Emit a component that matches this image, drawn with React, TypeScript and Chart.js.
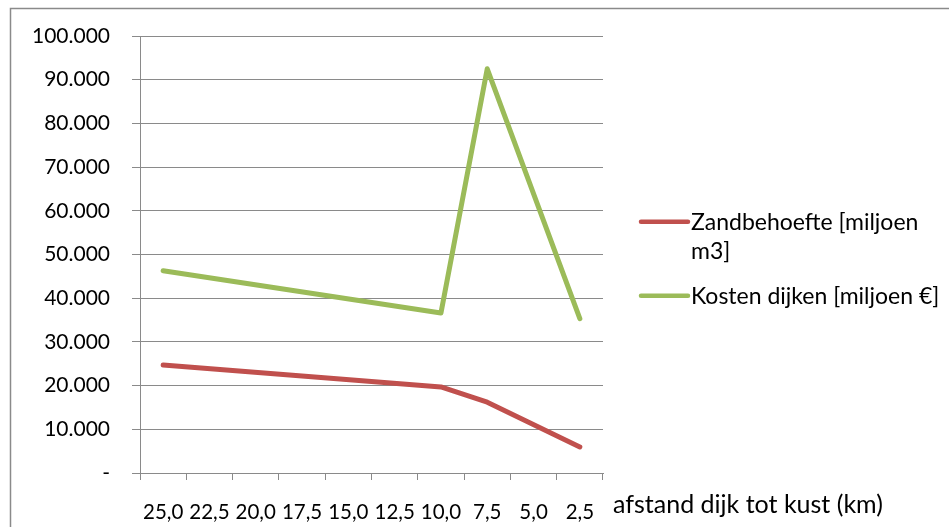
import React, { useEffect, useRef } from "react";
import { Chart, registerables } from "chart.js";

Chart.register(...registerables);

const categories = ["25,0", "22,5", "20,0", "17,5", "15,0", "12,5", "10,0", "7,5", "5,0", "2,5"];
const zandbehoefte = [24700, null, null, null, null, null, 19700, 16200, null, 5950];
const kostenDijken = [46300, null, null, null, null, null, 36600, 92500, null, 35300];
const seriesLabels = ["Zandbehoefte [miljoen m3]", "Kosten dijken [miljoen €]"];
const xAxisTitle = "afstand dijk tot kust (km)";
const yMin = 0;
const yMax = 100000;
const yStep = 10000;

const FONT = "Lato, 'Noto Sans', sans-serif";
const GRID = "#8a8a8a";
const RED = "#C0504D";
const GREEN = "#9BBB59";

function fmt(v: number): string {
  if (v === 0) return "-";
  return String(Math.round(v)).replace(/\B(?=(\d{3})+(?!\d))/g, ".");
}

function wrap(ctx: CanvasRenderingContext2D, text: string, maxW: number): string[] {
  const words = text.split(" ");
  const lines: string[] = [];
  let cur = "";
  for (const w of words) {
    const t = cur ? cur + " " + w : w;
    if (ctx.measureText(t).width > maxW && cur) {
      lines.push(cur);
      cur = w;
    } else cur = t;
  }
  if (cur) lines.push(cur);
  return lines;
}

const decorPlugin = {
  id: "decor",
  afterDraw(chart: any) {
    const ctx = chart.ctx as CanvasRenderingContext2D;
    const area = chart.chartArea;
    ctx.save();
    // outer frame
    ctx.strokeStyle = GRID;
    ctx.lineWidth = 1.5;
    ctx.beginPath();
    ctx.moveTo(10.5, 540);
    ctx.lineTo(10.5, 8.5);
    ctx.lineTo(960, 8.5);
    ctx.stroke();
    // axis title
    ctx.fillStyle = "#000";
    ctx.font = `25px ${FONT}`;
    ctx.textBaseline = "alphabetic";
    ctx.textAlign = "left";
    ctx.fillText(xAxisTitle, area.right + 10, 513);
    // legend
    ctx.font = `23px ${FONT}`;
    ctx.textBaseline = "middle";
    const colors = [RED, GREEN];
    const lineH = 28.5;
    let y = 221.7;
    chart.data.datasets.forEach((ds: any, i: number) => {
      ctx.strokeStyle = colors[i];
      ctx.lineWidth = 4.5;
      ctx.lineCap = "round";
      ctx.beginPath();
      ctx.moveTo(641, y);
      ctx.lineTo(688, y);
      ctx.stroke();
      ctx.fillStyle = "#000";
      const lines = wrap(ctx, ds.label, 258);
      lines.forEach((ln, j) => ctx.fillText(ln, 691, y + 1 + j * lineH));
      y += lines.length * lineH + 17;
    });
    ctx.restore();
  },
};

export default function App() {
  const ref = useRef<HTMLCanvasElement>(null);
  useEffect(() => {
    if (!ref.current) return;
    const chart = new Chart(ref.current, {
      type: "line",
      data: {
        labels: categories,
        datasets: [
          {
            label: seriesLabels[0],
            data: zandbehoefte,
            borderColor: RED,
            backgroundColor: RED,
            borderWidth: 5,
            pointRadius: 0,
            tension: 0,
            spanGaps: true,
            borderCapStyle: "round",
            borderJoinStyle: "round",
          },
          {
            label: seriesLabels[1],
            data: kostenDijken,
            borderColor: GREEN,
            backgroundColor: GREEN,
            borderWidth: 5,
            pointRadius: 0,
            tension: 0,
            spanGaps: true,
            borderCapStyle: "round",
            borderJoinStyle: "round",
          },
        ],
      },
      options: {
        responsive: false,
        animation: false,
        layout: { padding: { left: 0, top: 36, right: 346, bottom: 0 } },
        plugins: { legend: { display: false }, tooltip: { enabled: false } },
        scales: {
          x: {
            type: "category",
            offset: true,
            grid: { display: true, drawOnChartArea: false, drawTicks: true, tickLength: 7, color: GRID, offset: true },
            border: { display: true, color: GRID, width: 1 },
            ticks: {
              autoSkip: false,
              maxRotation: 0,
              minRotation: 0,
              padding: 20,
              color: "#000",
              font: { family: FONT, size: 20.5 },
            },
            afterFit: (s: any) => {
              s.height = 54;
            },
          },
          y: {
            min: yMin,
            max: yMax,
            grid: { color: GRID, tickLength: 8, drawTicks: true },
            border: { display: true, color: GRID, width: 1 },
            ticks: {
              stepSize: yStep,
              padding: 22,
              color: "#000",
              font: { family: FONT, size: 21 },
              callback: (v: any) => fmt(Number(v)),
            },
            afterFit: (s: any) => {
              s.width = 140;
            },
          },
        },
      },
      plugins: [decorPlugin],
    } as any);
    return () => chart.destroy();
  }, []);
  return (
    <div style={{ position: "fixed", left: 0, top: 0, width: 949, height: 527, background: "#fff" }}>
      <canvas ref={ref} width={949} height={527} style={{ display: "block" }} />
    </div>
  );
}
